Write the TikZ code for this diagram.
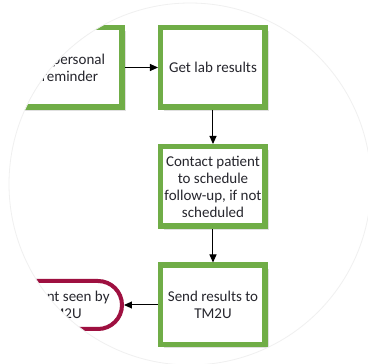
\documentclass[tikz,border=0pt]{standalone}
\usepackage{fontspec}
\setmainfont{Carlito}
\usetikzlibrary{arrows.meta,shadows}
\definecolor{boxgreen}{RGB}{112,173,71}
\definecolor{termred}{RGB}{158,16,64}
\definecolor{txt}{RGB}{38,38,45}
\tikzset{
  stepbox/.style={draw=boxgreen, line width=5.5pt, fill=white,
    minimum width=104.5pt, minimum height=79.5pt, inner sep=0pt,
    align=center, text=txt, font=\fontsize{15pt}{17pt}\selectfont,
    drop shadow={shadow xshift=3.5pt, shadow yshift=-3.5pt, opacity=0.12, fill=black}},
  termbox/.style={draw=termred, line width=4pt, fill=white,
    minimum width=118pt, minimum height=48pt, rounded corners=24pt, inner sep=0pt,
    align=center, text=txt, font=\fontsize{15pt}{17pt}\selectfont},
  flow/.style={draw=black, line width=1pt, -{Triangle[length=8pt,width=7pt]}}
}
\begin{document}
\begin{tikzpicture}[x=1pt,y=-1pt]
\useasboundingbox (0,0) rectangle (368,364);
\fill[white] (0,0) rectangle (368,364);
\begin{scope}
\clip (190,184) circle[radius=181];
\node[stepbox] (remind) at (70,67.5) {Sa personal\\reminder};
\node[stepbox] (lab) at (213,67.5) {Get lab results};
\node[stepbox] (contact) at (213,186.5) {Contact patient\\to schedule\\follow-up, if not\\scheduled};
\node[stepbox] (send) at (213,305) {Send results to\\TM2U};
\node[termbox] (seen) at (63,305) {Patient seen by\\TM2U};
\draw[flow] (remind.east) -- (lab.west);
\draw[flow] (lab.south) -- (contact.north);
\draw[flow] (contact.south) -- (send.north);
\draw[flow] (send.west) -- (seen.east);
\end{scope}
\draw[black!6, line width=0.8pt] (190,184) circle[radius=181];
\end{tikzpicture}
\end{document}
